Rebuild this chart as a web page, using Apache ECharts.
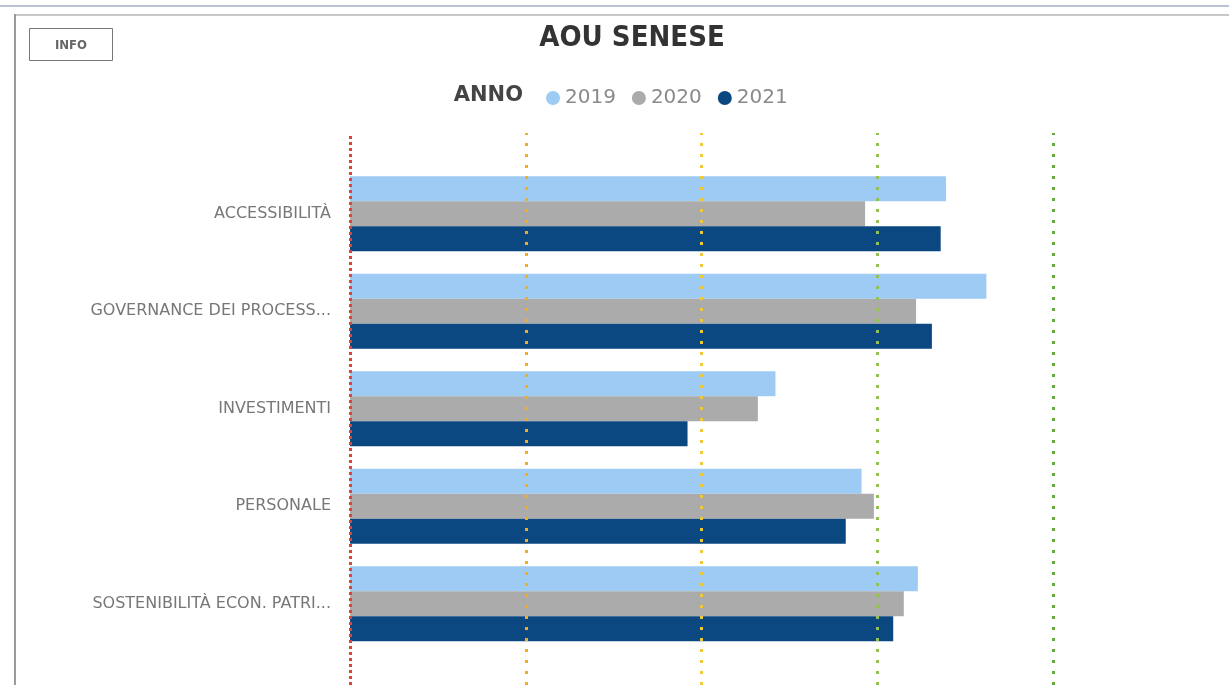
<!DOCTYPE html>
<html>
<head>
<meta charset="utf-8">
<script src="https://cdn.jsdelivr.net/npm/echarts@6/dist/echarts.min.js"></script>
<style>
html,body{margin:0;padding:0;background:#fff;}
#chart{width:1229px;height:685px;}
</style>
</head>
<body>
<div id="chart"></div>
<script>
const categories = ['ACCESSIBILITÀ', 'GOVERNANCE DEI PROCESS...', 'INVESTIMENTI', 'PERSONALE', 'SOSTENIBILITÀ ECON. PATRI...'];
const years = ['2019', '2020', '2021'];
const values2019 = [3.39, 3.62, 2.42, 2.91, 3.23];
const values2020 = [2.93, 3.22, 2.32, 2.98, 3.15];
const values2021 = [3.36, 3.31, 1.92, 2.82, 3.09];
const thresholds = [0, 1, 2, 3, 4];
const thresholdColors = ['#D9473A', '#F0AE28', '#F1C933', '#93C252', '#66A83E'];
const yearColors = ['#9DCBF4', '#ABABAB', '#0B4780'];

const chart = echarts.init(document.getElementById('chart'));
const font = "'DejaVu Sans', sans-serif";
const seriesData = [values2019, values2020, values2021];

const series = years.map((y, i) => ({
  name: y,
  type: 'bar',
  xAxisIndex: 0,
  yAxisIndex: 0,
  data: seriesData[i],
  itemStyle: { color: yearColors[i] },
  barWidth: 25,
  barGap: '0%',
  barCategoryGap: '23%',
  z: 2
}));

series.push({
  name: 'soglie',
  type: 'scatter',
  xAxisIndex: 1,
  yAxisIndex: 1,
  data: [],
  silent: true,
  z: 10,
  markLine: {
    silent: true,
    symbol: ['none', 'none'],
    label: { show: false },
    z: 10,
    data: thresholds.map((t, i) => ({
      xAxis: t,
      lineStyle: {
        color: thresholdColors[i],
        width: 3,
        type: i === 0 ? [3, 3] : [3, 8],
        opacity: 1
      }
    }))
  }
});

chart.setOption({
  animation: false,
  backgroundColor: '#fff',
  title: {
    text: 'AOU SENESE',
    left: 627,
    textAlign: 'center',
    top: 19,
    textStyle: { fontFamily: "'DejaVu Sans Condensed', sans-serif", fontWeight: 'bold', fontSize: 29, color: '#333' }
  },
  legend: {
    data: years,
    left: 541,
    top: 83,
    icon: 'circle',
    itemWidth: 14,
    itemHeight: 14,
    itemGap: 16,
    textStyle: { fontFamily: font, fontSize: 20, color: '#8a8a8a' }
  },
  grid: [
    { left: 350, right: -2, top: 165, height: 487.5 },
    { left: 350, right: -2, top: 133, bottom: -20 }
  ],
  xAxis: [
    { type: 'value', gridIndex: 0, min: 0, max: 5, interval: 1, show: false, splitLine: { show: false } },
    { type: 'value', gridIndex: 1, min: 0, max: 5, interval: 1, show: false, splitLine: { show: false } }
  ],
  yAxis: [
    {
      type: 'category', gridIndex: 0, data: categories, inverse: true,
      axisLine: { show: false }, axisTick: { show: false },
      axisLabel: { margin: 19, fontFamily: font, fontSize: 16, color: '#777' }
    },
    { type: 'value', gridIndex: 1, min: 0, max: 1, show: false }
  ],
  graphic: [
    { type: 'rect', shape: { x: 0, y: 5, width: 1229, height: 2 }, style: { fill: '#B9C3D6' }, silent: true },
    { type: 'rect', shape: { x: 15, y: 14, width: 1214, height: 2 }, style: { fill: '#C8C8C8' }, silent: true },
    { type: 'rect', shape: { x: 14, y: 14, width: 2, height: 680 }, style: { fill: '#9A9A9A' }, silent: true },
    { type: 'rect', shape: { x: 29.5, y: 28.5, width: 83, height: 32 }, style: { fill: '#fff', stroke: '#777', lineWidth: 1 }, silent: true },
    { type: 'text', x: 71, y: 46, style: { text: 'INFO', fontFamily: "'DejaVu Sans Condensed', sans-serif", fontSize: 13, fontWeight: 'bold', fill: '#666', align: 'center', verticalAlign: 'middle' }, silent: true },
    { type: 'text', x: 523, y: 96, style: { text: 'ANNO', fontFamily: font, fontSize: 21, fontWeight: 'bold', fill: '#444', align: 'right', verticalAlign: 'middle' }, silent: true }
  ],
  series: series
});
</script>
</body>
</html>
